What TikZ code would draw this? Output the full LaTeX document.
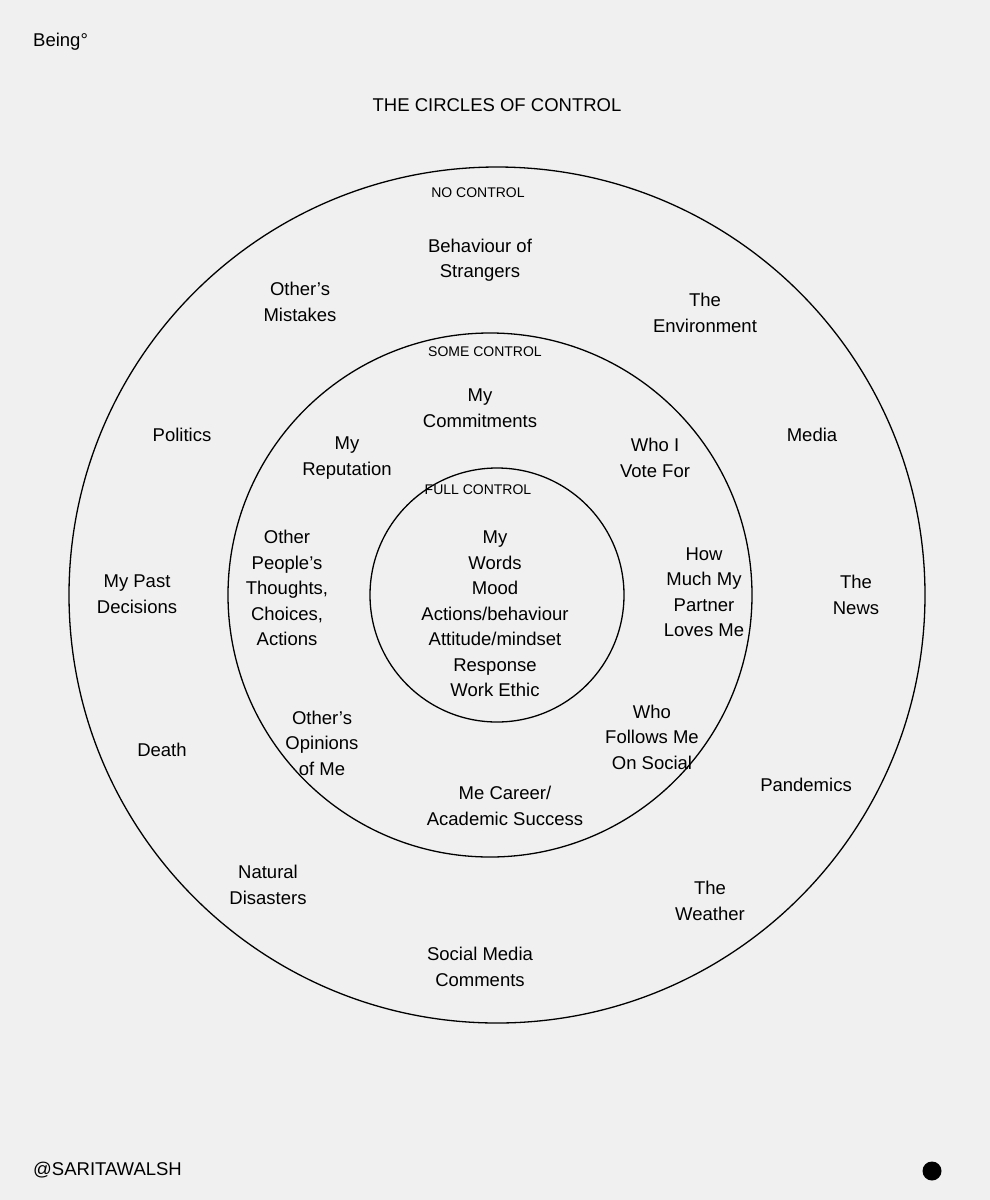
\documentclass[tikz,border=0pt]{standalone}
\usepackage{fontspec}
\setmainfont{Liberation Sans}
\begin{document}
\begin{tikzpicture}[x=1pt,y=-1pt,
  lab/.style={align=center,font=\fontsize{18.5}{25.5}\selectfont,inner sep=0pt},
  small/.style={align=center,font=\fontsize{14}{16}\selectfont,inner sep=0pt},
  ring/.style={draw=black,line width=1.3pt}]
\fill[fill={rgb,255:red,240;green,240;blue,240}] (0,0) rectangle (990,1200);
\useasboundingbox (0,0) rectangle (990,1200);
\node[ring,circle,minimum size=856pt,inner sep=0pt] (outer) at (497,595) {};
\node[ring,circle,minimum size=524pt,inner sep=0pt] (mid) at (490,595) {};
\node[ring,circle,minimum size=254pt,inner sep=0pt] (inner) at (497,595) {};
\node[lab,anchor=west] (being) at (33,42) {Being°};
\node[lab] (title) at (497,105) {THE CIRCLES OF CONTROL};
\node[small] (nc) at (478,193) {NO CONTROL};
\node[small] (sc) at (485,352) {SOME CONTROL};
\node[small] (fc) at (478,490) {FULL CONTROL};
\node[lab] at (480,260) {Behaviour of\\Strangers};
\node[lab] at (300,302) {Other’s\\Mistakes};
\node[lab] at (705,313) {The\\Environment};
\node[lab] at (480,408) {My\\Commitments};
\node[lab] at (182,435) {Politics};
\node[lab] at (812,435) {Media};
\node[lab] at (347,458) {My\\Reputation};
\node[lab] at (655,458) {Who I\\Vote For};
\node[lab] at (495,614) {My\\Words\\Mood\\Actions/behaviour\\Attitude/mindset\\Response\\Work Ethic};
\node[lab] at (287,588) {Other\\People’s\\Thoughts,\\Choices,\\Actions};
\node[lab] at (137,594) {My Past\\Decisions};
\node[lab] at (704,592) {How\\Much My\\Partner\\Loves Me};
\node[lab] at (856,595) {The\\News};
\node[lab] at (322,743) {Other’s\\Opinions\\of Me};
\node[lab] at (652,737) {Who\\Follows Me\\On Social};
\node[lab] at (162,750) {Death};
\node[lab] at (806,785) {Pandemics};
\node[lab] at (505,806) {Me Career/\\Academic Success};
\node[lab] at (268,885) {Natural\\Disasters};
\node[lab] at (710,901) {The\\Weather};
\node[lab] at (480,967) {Social Media\\Comments};
\node[lab,anchor=west] (handle) at (33,1170) {@SARITAWALSH};
\fill (932,1171) circle (9.5pt);
\end{tikzpicture}
\end{document}
